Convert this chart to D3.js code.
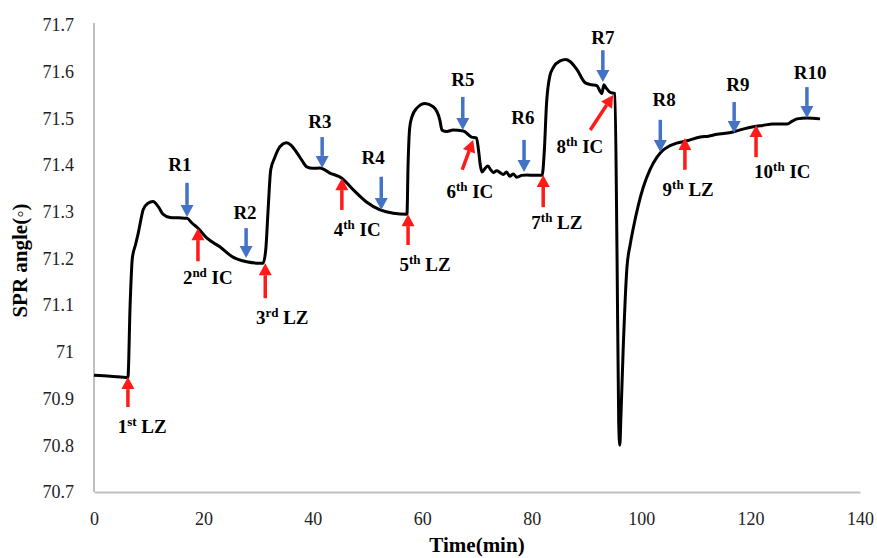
<!DOCTYPE html>
<html>
<head>
<meta charset="utf-8">
<script src="https://d3js.org/d3.v7.min.js"></script>
<style>
    body { margin: 0; background: #fff; }
    text { font-family: "Liberation Serif", "Times New Roman", serif; }
</style>
</head>
<body>
<svg id="drawing_region"></svg>
<script>
// SPR sensorgram
const timeMin = [0, 3, 6.2, 6.6, 7.0, 7.6, 8.1, 9.0, 9.8, 10.8, 11.8, 12.6, 13.9, 15.5, 17.0, 17.9, 19.0, 20.6, 23.0, 25.4,
    27.9, 30.0, 30.9, 31.4, 31.8, 32.3, 33.0, 33.6, 34.5, 35.2, 36.0, 37.0, 38.0, 38.9, 40.0, 41.3, 43.1, 45.3, 47.4, 49.8,
    52.3, 54.7, 57.2, 57.4, 57.7, 58.1, 59.0, 60.5, 62.0, 63.2, 63.6, 64.5, 65.6, 67.5, 69.0, 69.9, 70.3, 70.6, 70.9, 71.4,
    72.0, 72.5, 73.0, 73.6, 74.2, 74.8, 75.4, 76.0, 76.6, 77.3, 78.2, 79.1, 80.5, 81.9, 82.3, 82.7, 83.3, 84.0, 85.2, 86.2,
    87.0, 88.3, 89.8, 91.0, 91.9, 92.4, 92.8, 93.2, 93.6, 94.3, 95.2, 95.6, 95.9, 96.1, 96.3, 96.7, 97.4, 98.0, 98.6, 99.5,
    100.4, 101.6, 102.9, 104.0, 105.2, 106.5, 108.4, 110.8, 112.3, 113.9, 115.4, 116.8, 118.6, 120.5, 122.2, 124.1, 126.7, 127.6, 128.5, 130.3,
    132.7];
const angleDeg = [70.950, 70.948, 70.945, 71.10, 71.20, 71.23, 71.255, 71.305, 71.318, 71.322, 71.31, 71.295, 71.288, 71.287, 71.286, 71.276, 71.265, 71.244, 71.225, 71.203,
    71.193, 71.19, 71.19, 71.22, 71.30, 71.39, 71.415, 71.432, 71.445, 71.448, 71.443, 71.428, 71.41, 71.396, 71.393, 71.394, 71.383, 71.372, 71.347, 71.321,
    71.304, 71.297, 71.295, 71.40, 71.48, 71.503, 71.522, 71.532, 71.525, 71.497, 71.475, 71.472, 71.475, 71.473, 71.46, 71.458, 71.43, 71.40, 71.385, 71.392,
    71.398, 71.39, 71.384, 71.388, 71.384, 71.38, 71.385, 71.376, 71.381, 71.374, 71.378, 71.379, 71.378, 71.378, 71.43, 71.53, 71.59, 71.61, 71.623, 71.626,
    71.622, 71.604, 71.576, 71.572, 71.57, 71.56, 71.553, 71.572, 71.565, 71.556, 71.553, 71.2, 70.85, 70.80, 70.86, 71.00, 71.18, 71.23, 71.267, 71.315,
    71.353, 71.39, 71.417, 71.432, 71.441, 71.447, 71.452, 71.46, 71.462, 71.466, 71.468, 71.471, 71.477, 71.482, 71.485, 71.488, 71.488, 71.494, 71.499, 71.501,
    71.499];

const xTicks = [0, 20, 40, 60, 80, 100, 120, 140];
const yTicks = [70.7, 70.8, 70.9, 71, 71.1, 71.2, 71.3, 71.4, 71.5, 71.6, 71.7];

// red arrows (injections): label number, suffix, name, tip, tail, label anchor
const redNum = ['1', '2', '3', '4', '5', '6', '7', '8', '9', '10'];
const redSup = ['st', 'nd', 'rd', 'th', 'th', 'th', 'th', 'th', 'th', 'th'];
const redName = ['LZ', 'IC', 'LZ', 'IC', 'LZ', 'IC', 'LZ', 'IC', 'LZ', 'IC'];
const redTipTime = [6.2, 19.0, 31.3, 45.3, 57.4, 69.3, 82.1, 94.9, 108.0, 121.0];
const redTipValue = [70.946, 71.265, 71.19, 71.372, 71.295, 71.454, 71.379, 71.55, 71.458, 71.486];
const redTailTime = [6.2, 19.0, 31.3, 45.3, 57.4, 67.3, 82.1, 90.7, 108.0, 121.0];
const redTailValue = [70.882, 71.194, 71.115, 71.304, 71.229, 71.39, 71.31, 71.475, 71.39, 71.417];
const redLabelTime = [8.8, 20.8, 34.4, 48.1, 60.5, 68.7, 84.6, 88.8, 108.6, 125.8];
const redLabelValue = [70.826, 71.145, 71.06, 71.248, 71.173, 71.33, 71.263, 71.426, 71.334, 71.372];

// blue arrows (regeneration)
const blueName = ['R1', 'R2', 'R3', 'R4', 'R5', 'R6', 'R7', 'R8', 'R9', 'R10'];
const blueTime = [17.0, 27.8, 41.7, 52.5, 67.4, 78.6, 93.0, 103.5, 117.0, 130.3];
const blueTipValue = [71.289, 71.201, 71.394, 71.304, 71.475, 71.385, 71.578, 71.428, 71.469, 71.501];
const blueTailValue = [71.362, 71.265, 71.46, 71.375, 71.546, 71.454, 71.646, 71.497, 71.535, 71.567];
const blueLabelTime = [15.7, 27.6, 41.3, 51.0, 67.4, 78.4, 93.0, 104.2, 117.7, 130.9];
const blueLabelValue = [71.387, 71.285, 71.48, 71.402, 71.569, 71.488, 71.659, 71.527, 71.559, 71.584];

const width = 877, height = 558;
const margin = {top: 25, right: 17, bottom: 66, left: 94};

const svg = d3.select('#drawing_region')
    .attr('width', width)
    .attr('height', height);

const xscale = d3.scaleLinear()
    .domain([0, 140])
    .range([margin.left, width - margin.right]);
const yscale = d3.scaleLinear()
    .domain([70.7, 71.7])
    .range([height - margin.bottom, margin.top]);

// axes
const xaxis = d3.axisBottom(xscale).tickValues(xTicks).tickSize(0).tickPadding(20);
const yaxis = d3.axisLeft(yscale).tickValues(yTicks).tickSize(0).tickPadding(20)
    .tickFormat(d => d3.format('.1f')(d).replace('.0', ''));

const xaxis_group = svg.append('g')
    .attr('transform', `translate(0, ${yscale(70.7)})`)
    .call(xaxis);
const yaxis_group = svg.append('g')
    .attr('transform', `translate(${xscale(0)}, 0)`)
    .call(yaxis);

[xaxis_group, yaxis_group].forEach(g => {
    g.select('.domain').attr('stroke', '#bfbfbf').attr('stroke-width', 2);
    g.selectAll('text')
        .style('font-family', '"Liberation Serif", "Times New Roman", serif')
        .style('font-size', '18px')
        .attr('fill', '#222');
});
yaxis_group.select('.domain').attr('d', `M0,${yscale(71.7) - 2}V${yscale(70.7)}`);

// axis titles
svg.append('text')
    .attr('x', (xscale(0) + xscale(140)) / 2)
    .attr('y', 552)
    .attr('text-anchor', 'middle')
    .style('font-size', '21px')
    .style('font-weight', 'bold')
    .text('Time(min)');

svg.append('text')
    .attr('transform', `translate(27, ${yscale(71.2) + 2}) rotate(-90)`)
    .attr('text-anchor', 'middle')
    .style('font-size', '21px')
    .style('font-weight', 'bold')
    .text('SPR angle(◦)');

// curve
const data = timeMin.map((t, i) => ({t: t, v: angleDeg[i]}));
const line = d3.line()
    .x(d => xscale(d.t))
    .y(d => yscale(d.v))
    .curve(d3.curveMonotoneX);

svg.append('path')
    .datum(data)
    .attr('d', line)
    .attr('fill', 'none')
    .attr('stroke', '#000')
    .attr('stroke-width', 3)
    .attr('stroke-linejoin', 'round');

// arrows
function arrow(x1, y1, x2, y2, color) {
    // from tail (x1,y1) to tip (x2,y2)
    const dx = x2 - x1, dy = y2 - y1;
    const len = Math.sqrt(dx * dx + dy * dy);
    const ux = dx / len, uy = dy / len;
    const head = 12, half = 6.5;
    const bx = x2 - ux * head, by = y2 - uy * head;
    svg.append('line')
        .attr('x1', x1).attr('y1', y1)
        .attr('x2', bx).attr('y2', by)
        .attr('stroke', color)
        .attr('stroke-width', 3.5);
    svg.append('polygon')
        .attr('points', [[x2, y2], [bx - uy * half, by + ux * half], [bx + uy * half, by - ux * half]].join(' '))
        .attr('fill', color);
}

const red = '#ff1a1a', blue = '#4472c4';

redNum.forEach((n, i) => {
    arrow(xscale(redTailTime[i]), yscale(redTailValue[i]), xscale(redTipTime[i]), yscale(redTipValue[i]), red);
    const t = svg.append('text')
        .attr('x', xscale(redLabelTime[i]))
        .attr('y', yscale(redLabelValue[i]))
        .attr('text-anchor', 'middle')
        .style('font-size', '19px')
        .style('font-weight', 'bold');
    t.append('tspan').text(n);
    t.append('tspan').attr('dy', -7).style('font-size', '13px').text(redSup[i]);
    t.append('tspan').attr('dy', 7).text(' ' + redName[i]);
});

blueName.forEach((n, i) => {
    arrow(xscale(blueTime[i]), yscale(blueTailValue[i]), xscale(blueTime[i]), yscale(blueTipValue[i]), blue);
    svg.append('text')
        .attr('x', xscale(blueLabelTime[i]))
        .attr('y', yscale(blueLabelValue[i]))
        .attr('text-anchor', 'middle')
        .style('font-size', '19px')
        .style('font-weight', 'bold')
        .text(n);
});
</script>
</body>
</html>
